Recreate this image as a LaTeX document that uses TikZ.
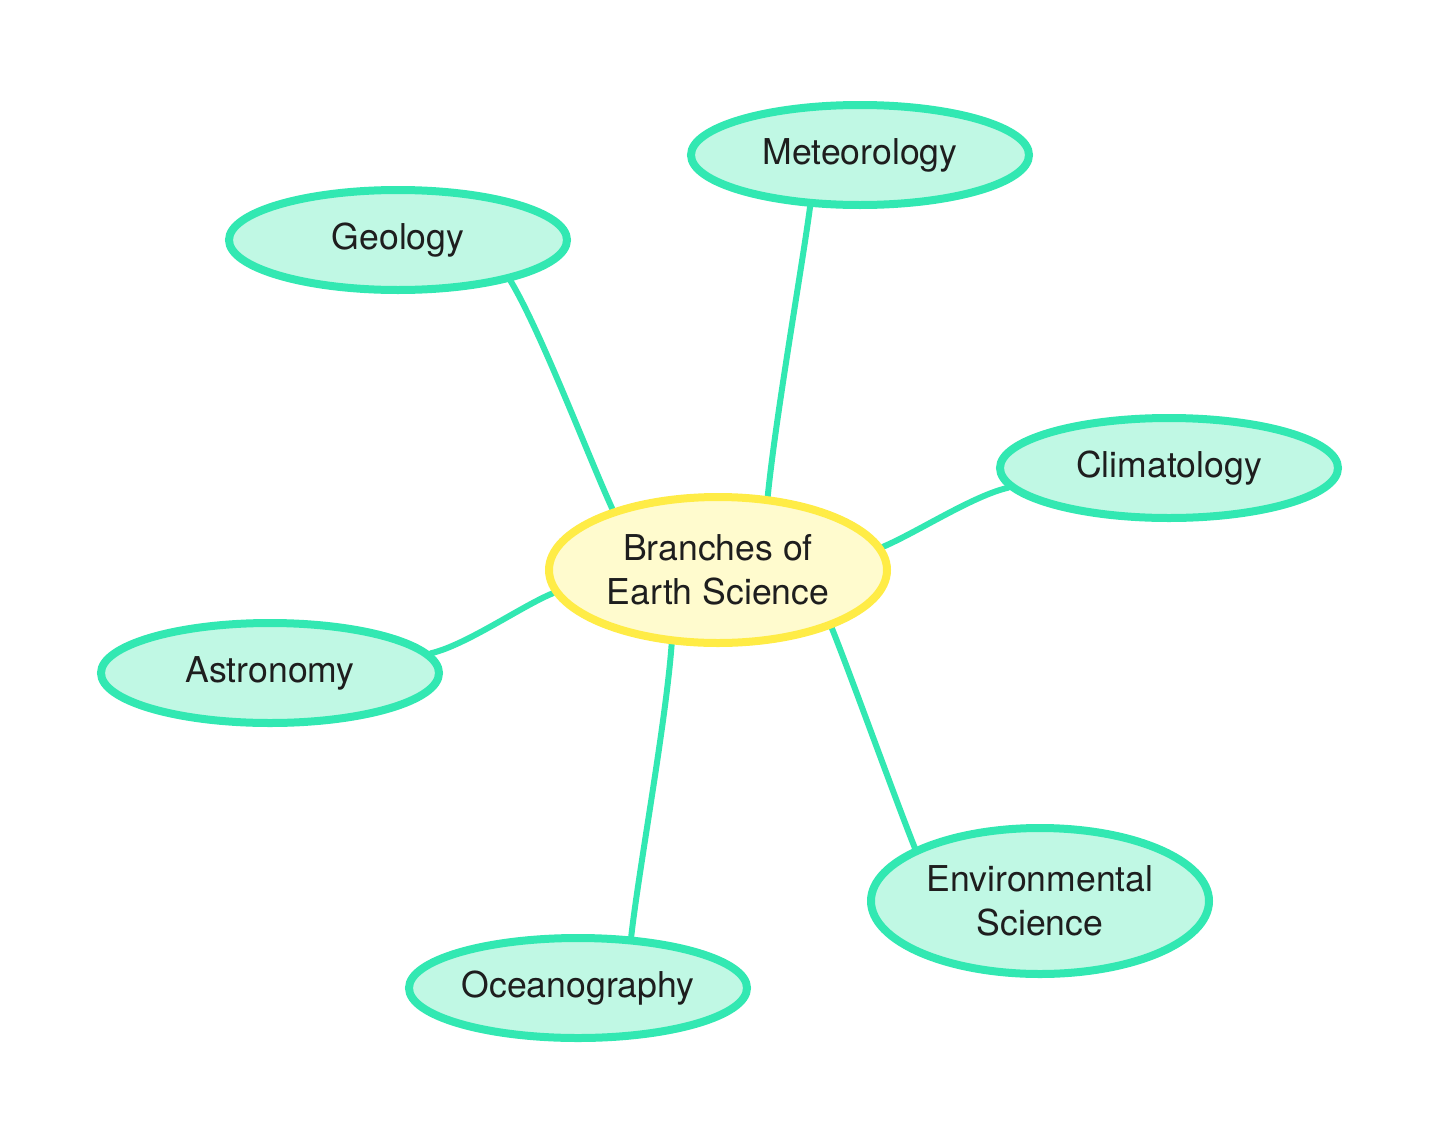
\documentclass[tikz,border=0pt]{standalone}
\usepackage{fontspec}
\setmainfont{TeX Gyre Heros}
\usetikzlibrary{shapes.geometric}
\pgfdeclarelayer{background}
\pgfsetlayers{background,main}
\definecolor{grn}{RGB}{50,232,178}
\definecolor{grnfill}{RGB}{192,248,228}
\definecolor{ylw}{RGB}{255,236,70}
\definecolor{ylwfill}{RGB}{255,251,206}
\definecolor{txt}{RGB}{30,30,30}
\tikzset{
  leaf/.style={ellipse, draw=grn, fill=grnfill, line width=4pt, minimum width=169pt, minimum height=50pt, inner sep=0pt, text=txt, font=\fontsize{17.8pt}{22pt}\selectfont, align=center},
  bigleaf/.style={leaf, minimum height=73pt},
  hub/.style={leaf, draw=ylw, fill=ylwfill, minimum height=73pt},
  link/.style={draw=grn, line width=3pt, line cap=round}
}
\begin{document}
\begin{tikzpicture}[x=0.5pt,y=-0.5pt]
\useasboundingbox (0,0) rectangle (1440,1140);
\node[hub] (C) at (718,570) {Branches of\\Earth Science};
\node[leaf] (G) at (398,240) {Geology};
\node[leaf] (M) at (860,155) {Meteorology};
\node[leaf] (K) at (1169,468) {Climatology};
\node[leaf] (A) at (270,673) {Astronomy};
\node[leaf] (O) at (578,988) {Oceanography};
\node[bigleaf] (E) at (1040,901) {Environmental\\Science};
\begin{pgfonlayer}{background}
\draw[link] (C.150) .. controls +(-25,-55) and +(30,50) .. (G.340);
\draw[link] (C.56) .. controls +(8,-80) and +(-8,60) .. (M.226);
\draw[link] (C.8) .. controls +(35,-15) and +(-35,8) .. (K.187);
\draw[link] (C.188) .. controls +(-30,12) and +(35,-8) .. (A.7);
\draw[link] (C.238) .. controls +(-6,80) and +(8,-70) .. (O.44);
\draw[link] (C.333) .. controls +(20,50) and +(-20,-50) .. (E.157);
\end{pgfonlayer}
\end{tikzpicture}
\end{document}
